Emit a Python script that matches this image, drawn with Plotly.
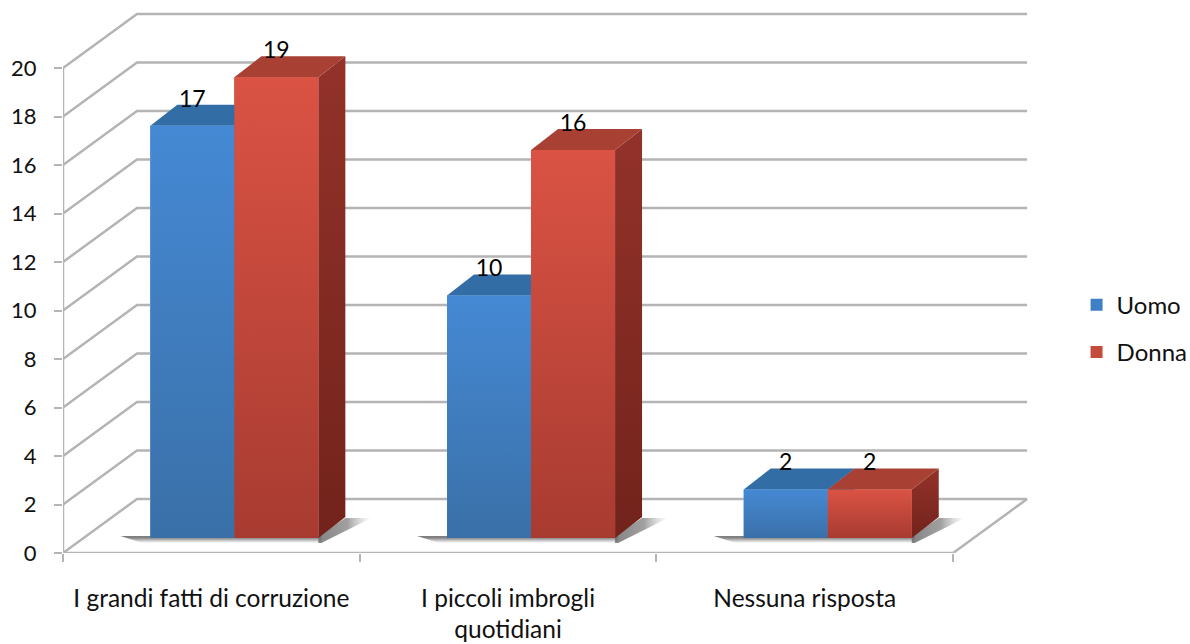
import plotly.graph_objects as go

categories = ["I grandi fatti di corruzione", "I piccoli imbrogli<br>quotidiani", "Nessuna risposta"]
uomo = [17, 10, 2]
donna = [19, 16, 2]
y_ticks = list(range(0, 21, 2))

W, H = 1190, 644
L, R, T, B = 63, 1032, 10, 553
X_UNIT = 296.7
Y_UNIT = 24.25
FONT = "Lato"
GRID = "#b4b4b4"
TEXT = "#111111"

def ux(px):
    return px / X_UNIT

def uy(px):
    return px / Y_UNIT

x_max = ux(R - L)
y_max = uy(B - T)
WALL_X, WALL_Y = ux(74), uy(54)
BASE_X, BASE_Y = ux(23), uy(15)
DEPTH_X, DEPTH_Y = ux(27), uy(21)
BAR_W = ux(84)
LABEL_UP = uy(25)

fig = go.Figure()

# walls and floor
gx, gy = [], []
for v in y_ticks:
    gx += [0, WALL_X, 3 + WALL_X, None]
    gy += [v, v + WALL_Y, v + WALL_Y, None]
gx += [3, 3 + WALL_X, None, 0, 0, None, 0, 3]
gy += [0, WALL_Y, None, 0, 20, None, 0, 0]
fig.add_trace(go.Scatter(x=gx, y=gy, mode="lines", line=dict(color=GRID, width=2.5),
                         hoverinfo="skip", showlegend=False, cliponaxis=False))

# floor shadows: a strip in front of the bars that fades downward, and a patch beside them
for i in range(len(categories)):
    x0 = i + 0.5 + BASE_X - BAR_W
    x1 = i + 0.5 + BASE_X + BAR_W
    low = BASE_Y - uy(5)
    top = BASE_Y + uy(2)
    fig.add_trace(go.Scatter(
        x=[x0 - ux(8), x1 + ux(3), x1 + ux(3), x0 - ux(30), x0 - ux(8)],
        y=[low, low, top, top, low],
        mode="lines", fill="toself", line=dict(width=0), hoverinfo="skip", showlegend=False,
        fillgradient=dict(type="vertical", colorscale=[
            [0, "rgba(120,120,120,0)"], [0.75, "rgba(110,110,110,0.85)"], [1, "rgba(110,110,110,0.9)"]])))
    fig.add_trace(go.Scatter(
        x=[x1, x1 + ux(3), x1 + DEPTH_X + ux(26), x1 + DEPTH_X, x1, x1],
        y=[low, low, BASE_Y + DEPTH_Y - uy(1), BASE_Y + DEPTH_Y - uy(1), top, low],
        mode="lines", fill="toself", line=dict(width=0), hoverinfo="skip", showlegend=False,
        fillgradient=dict(type="horizontal", colorscale=[
            [0, "rgba(110,110,110,0.85)"], [0.55, "rgba(120,120,120,0.7)"],
            [1, "rgba(170,170,170,0)"]])))

series = [
    dict(name="Uomo", values=uomo, side=-1, solid="#3f7fc4",
         front=("#3a70a8", "#4589d4"), top="#336da6", flank=("#2a5a8a", "#2f6aa2")),
    dict(name="Donna", values=donna, side=0, solid="#c44a3c",
         front=("#a83b31", "#da5344"), top="#a84034", flank=("#72231b", "#93322a")),
]

# real bars, used for the scale and the legend
for s in series:
    fig.add_trace(go.Bar(
        x=[i + 0.5 + BASE_X + (s["side"] + 0.5) * BAR_W for i in range(3)],
        y=s["values"], base=BASE_Y, width=BAR_W, name=s["name"], legendgroup=s["name"],
        marker=dict(color=s["solid"], line=dict(width=0)), hoverinfo="x+y"))

# shaded faces derived from each value
for i in range(3):
    for s in series:
        v = s["values"][i]
        x0 = i + 0.5 + BASE_X + s["side"] * BAR_W
        x1 = x0 + BAR_W
        b, t = BASE_Y, BASE_Y + v
        fig.add_trace(go.Scatter(
            x=[x1, x1 + DEPTH_X, x1 + DEPTH_X, x1, x1], y=[b, b + DEPTH_Y, t + DEPTH_Y, t, b],
            mode="lines", fill="toself", line=dict(width=0), hoverinfo="skip", showlegend=False,
            fillgradient=dict(type="vertical", colorscale=[[0, s["flank"][0]], [1, s["flank"][1]]])))
        fig.add_trace(go.Scatter(
            x=[x0, x1, x1 + DEPTH_X, x0 + DEPTH_X, x0], y=[t, t, t + DEPTH_Y, t + DEPTH_Y, t],
            mode="lines", fill="toself", fillcolor=s["top"], line=dict(width=0),
            hoverinfo="skip", showlegend=False))
        fig.add_trace(go.Scatter(
            x=[x0, x1, x1, x0, x0], y=[b, b, t, t, b],
            mode="lines", fill="toself", line=dict(width=0), hoverinfo="skip", showlegend=False,
            fillgradient=dict(type="vertical", colorscale=[[0, s["front"][0]], [1, s["front"][1]]])))

# value labels
for s in series:
    fig.add_trace(go.Scatter(
        x=[i + 0.5 + BASE_X + (s["side"] + 0.5) * BAR_W for i in range(3)],
        y=[v + BASE_Y + LABEL_UP for v in s["values"]],
        text=[str(v) for v in s["values"]], mode="text", textposition="middle center",
        textfont=dict(family=FONT, size=23, color="#000000"),
        hoverinfo="skip", showlegend=False, cliponaxis=False))

fig.update_layout(
    width=W, height=H, autosize=False,
    margin=dict(l=L, r=W - R, t=T, b=H - B, autoexpand=False),
    paper_bgcolor="white", plot_bgcolor="white", barmode="overlay",
    font=dict(family=FONT, size=22, color=TEXT),
    showlegend=True,
    legend=dict(x=1.046, y=0.498, xanchor="left", yanchor="top", tracegroupgap=13,
                font=dict(family=FONT, size=24, color=TEXT), bgcolor="rgba(0,0,0,0)"),
    xaxis=dict(range=[0, x_max], showgrid=False, zeroline=False, showline=False,
               tickmode="array", tickvals=[0.5, 1.5, 2.5], ticktext=categories, ticks="",
               ticklabelstandoff=28, tickfont=dict(family=FONT, size=24.5, color=TEXT),
               minor=dict(tick0=0, dtick=1, ticks="outside", ticklen=8, tickwidth=2, tickcolor=GRID, showgrid=False)),
    yaxis=dict(range=[0, y_max], showgrid=False, zeroline=False, showline=False,
               tickmode="array", tickvals=y_ticks, ticks="outside", ticklen=8, tickwidth=2,
               tickcolor=GRID, ticklabelstandoff=13),
)

fig.write_html("out.html", config={"displayModeBar": False},
               post_script="document.body.style.margin='0';")
